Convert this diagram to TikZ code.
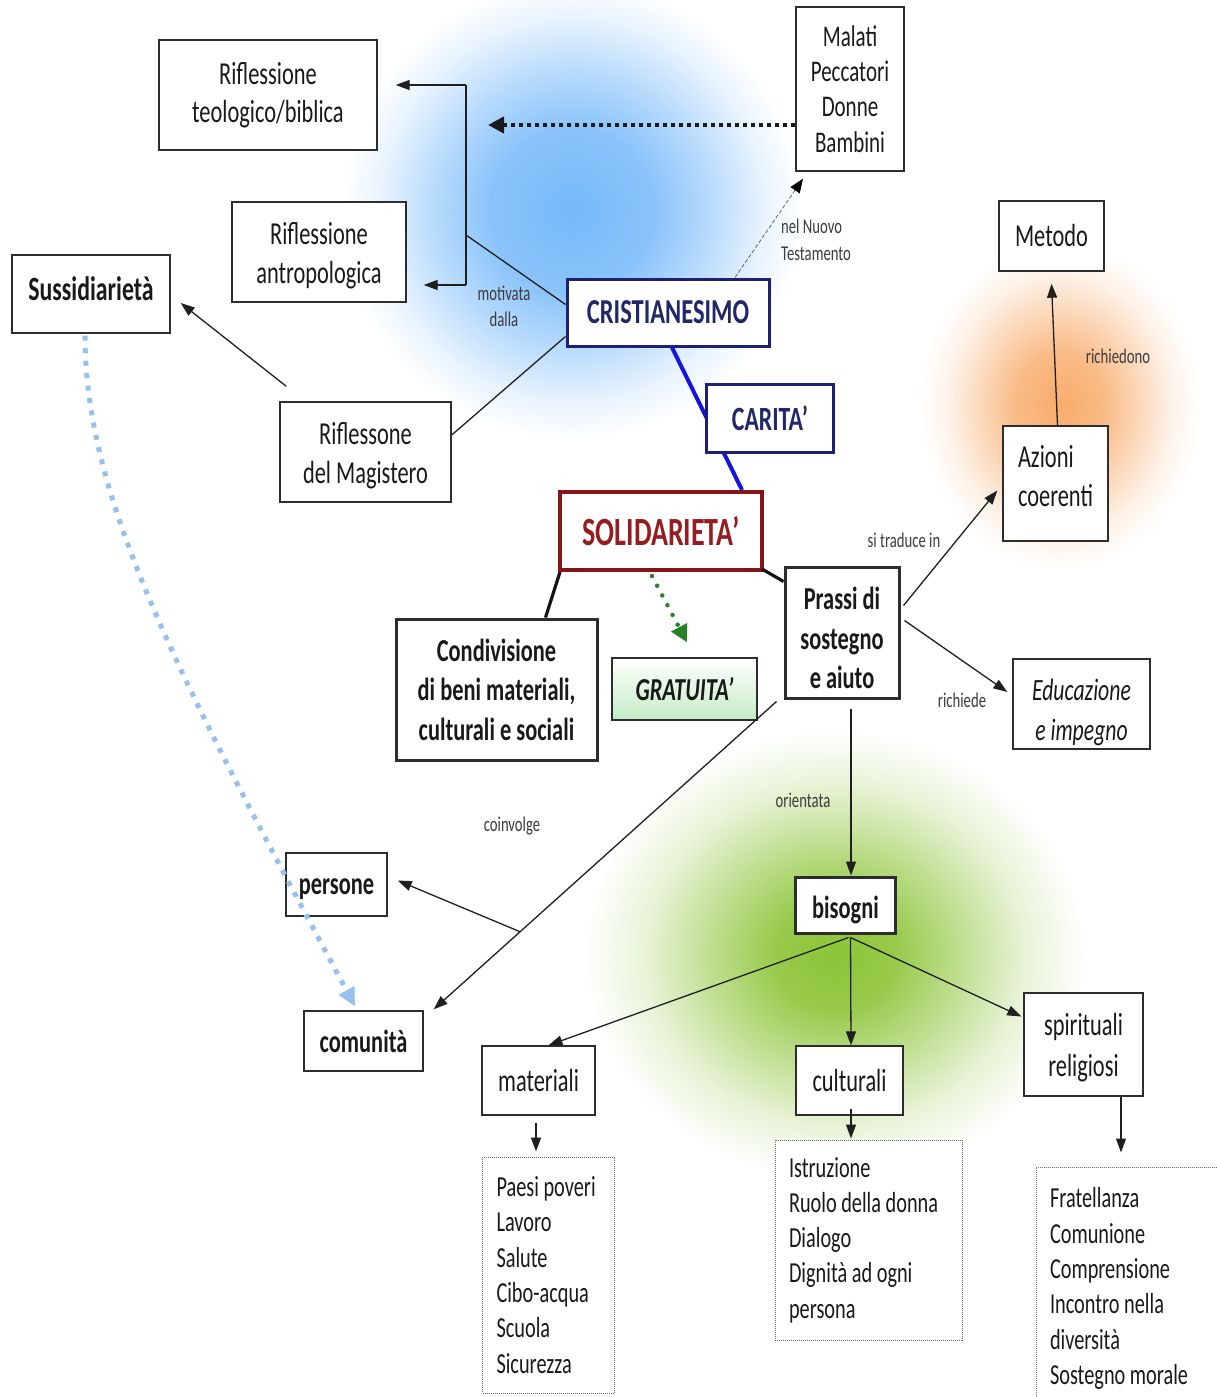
\documentclass[tikz,border=0pt]{standalone}
\usepackage{fontspec}
\setmainfont{Carlito}[FakeStretch=0.70]
\usetikzlibrary{arrows.meta,calc}
\newcommand\tdn[1]{\rule{0pt}{#1}}
\newcommand\tup[1]{\rule[-#1]{0pt}{#1}}
\definecolor{boxc}{RGB}{45,45,45}
\definecolor{navyc}{RGB}{30,32,115}
\definecolor{navytxt}{RGB}{32,40,105}
\definecolor{bluelnc}{RGB}{20,20,225}
\definecolor{redc}{RGB}{135,20,22}
\definecolor{redtxt}{RGB}{150,28,32}
\definecolor{greenarr}{RGB}{40,128,40}
\definecolor{grafill}{RGB}{196,236,196}
\definecolor{lblc}{RGB}{60,60,60}
\definecolor{dotblue}{RGB}{150,192,238}
\definecolor{gblue}{RGB}{118,185,250}
\definecolor{gorange}{RGB}{248,172,108}
\definecolor{ggreen}{RGB}{140,196,55}
\pgfdeclareradialshading{glowblue}{\pgfpointorigin}{color(0bp)=(gblue); color(9bp)=(gblue!85!white); color(15bp)=(gblue!52!white); color(21bp)=(gblue!16!white); color(25bp)=(white); color(50bp)=(white)}
\pgfdeclareradialshading{gloworange}{\pgfpointorigin}{color(0bp)=(gorange); color(8bp)=(gorange!82!white); color(14bp)=(gorange!48!white); color(20bp)=(gorange!15!white); color(25bp)=(white); color(50bp)=(white)}
\pgfdeclareradialshading{glowgreen}{\pgfpointorigin}{color(0bp)=(ggreen); color(6bp)=(ggreen!90!white); color(12bp)=(ggreen!58!white); color(19bp)=(ggreen!20!white); color(25bp)=(white); color(50bp)=(white)}
\begin{document}
\begin{tikzpicture}[x=1pt,y=-1pt,
  sz/.style 2 args={minimum width=#1pt, minimum height=#2pt},
  box/.style={draw=boxc, line width=1.4pt, fill=white, inner sep=0pt, align=center, text=black!90, font=\fontsize{32}{38.5}\selectfont},
  bfont/.style={font=\fontsize{32}{39.5}\selectfont\bfseries},
  bbox/.style={box, line width=3pt, bfont},
  navybox/.style={box, draw=navyc, line width=3pt, text=navytxt, font=\fontsize{35}{40}\selectfont\bfseries},
  solbox/.style={box, draw=redc, line width=4pt, text=redtxt, font=\fontsize{40}{44}\selectfont\bfseries},
  lst/.style={draw=boxc!70, line width=1pt, densely dotted, fill=white, align=flush left, inner xsep=14pt, inner ysep=0pt, text=black!90, font=\fontsize{29}{35.3}\selectfont},
  lbl/.style={font=\fontsize{21}{26.5}\selectfont, text=lblc, inner sep=0pt, align=center},
  ln/.style={draw=black!88, line width=1.3pt},
  arr/.style={ln, -{Triangle[length=14pt,width=10pt]}},
  thk/.style={draw=black!92, line width=3.2pt},
  blueln/.style={draw=bluelnc, line width=4pt},
  dotarr/.style={draw=black!90, line width=4.5pt, dash pattern=on 4.5pt off 3.5pt, -{Triangle[length=16pt,width=16pt]}},
  dasharr/.style={draw=black!60, line width=0.8pt, dash pattern=on 4pt off 2pt, -{Triangle[length=14pt,width=11pt,color=black]}},
  greendot/.style={draw=greenarr, line width=4.5pt, line cap=round, dash pattern=on 0pt off 11pt, -{Triangle[length=17pt,width=17pt]}},
  bluedot/.style={draw=dotblue, line width=5pt, dash pattern=on 5pt off 7.5pt, -{Triangle[length=18pt,width=17pt]}}
]
\useasboundingbox (0,0) rectangle (1217,1397);
\fill[white] (0,0) rectangle (1217,1397);
% glows
\shade[shading=glowblue] (572,210) ellipse [x radius=230, y radius=230];
\shade[shading=gloworange] (1060,405) ellipse [x radius=140, y radius=165];
\shade[shading=glowgreen] (835,955) ellipse [x radius=250, y radius=225];
% nodes
\node[box, sz={218}{110}] (rtb) at (268,95) {Riflessione\\teologico/biblica};
\node[box, sz={174}{100}] (rant) at (319,252) {\tdn{29pt}Riflessione\\antropologica};
\node[box, sz={158}{78}, font=\fontsize{34}{40}\selectfont\bfseries] (sus) at (91,294) {Sussidiarietà\tup{10pt}};
\node[box, sz={171}{100}] (mag) at (365.5,452) {\tdn{29pt}Riflessone\\del Magistero};
\node[box, sz={108}{164}, font=\fontsize{30}{35.3}\selectfont] (mal) at (850,89) {Malati\\Peccatori\\Donne\\Bambini};
\node[navybox, sz={202}{67}] (cri) at (668,312.5) {CRISTIANESIMO};
\node[box, sz={105}{70}] (met) at (1051.5,236) {Metodo};
\node[box, sz={105}{115}, align=left, text width=75pt, inner xsep=15pt] (azi) at (1055.5,483.5) {Azioni\\coerenti\tup{15pt}};
\node[solbox, sz={202}{78}] (sol) at (661,531) {SOLIDARIETA’};
\node[bbox, sz={114}{131}] (prs) at (842,632.5) {\tdn{34pt}Prassi di\\sostegno\\e aiuto};
\node[bbox, sz={201}{141}] (con) at (496.5,689.5) {Condivisione\\di beni materiali,\\culturali e sociali};
\node[box, sz={145}{62}, top color=white, bottom color=grafill, font=\fontsize{32}{38}\selectfont\bfseries\itshape] (gra) at (684.5,689) {GRATUITA’};
\node[box, sz={137}{90}, font=\fontsize{31}{40}\selectfont\itshape] (edu) at (1081.5,704) {\tdn{38pt}Educazione\\e impegno};
\node[box, sz={101}{63}, bfont] (per) at (336.5,884.5) {\tdn{25pt}persone};
\node[box, sz={119}{60}, bfont] (com) at (363.5,1041) {comunità};
\node[bbox, sz={100}{56}] (bis) at (845.5,905) {\tdn{32pt}bisogni};
\node[box, sz={113}{69}] (mat) at (538.5,1080.5) {materiali};
\node[box, sz={107}{69}] (cul) at (849.5,1080.5) {culturali};
\node[box, sz={119}{103}, font=\fontsize{32}{41}\selectfont] (spi) at (1083.5,1044.5) {\tdn{28pt}spirituali\\religiosi};
\node[lst, text width=104pt, minimum height=236pt] (lm) at (548.5,1275) {\mbox{Paesi poveri}\\Lavoro\\Salute\\Cibo-acqua\\Scuola\\Sicurezza};
\node[lst, text width=159pt, minimum height=200pt] (lc) at (868.5,1240) {Istruzione\\\mbox{Ruolo della donna}\\Dialogo\\\mbox{Dignità ad ogni}\\persona};
\node[lst, text width=172pt, minimum height=243pt] (ls) at (1136,1288.5) {Fratellanza\\Comunione\\Comprensione\\\mbox{Incontro nella}\\diversità\\\mbox{Sostegno morale}};
% labels
\node[lbl] (l1) at (504,306.5) {motivata\\dalla};
\node[lbl, align=left, anchor=west] (l2) at (781,240) {nel Nuovo\\Testamento};
\node[lbl] (l3) at (1118,356) {richiedono};
\node[lbl] (l4) at (904,540) {si traduce in};
\node[lbl] (l5) at (962,700) {richiede};
\node[lbl] (l6) at (803,800) {orientata};
\node[lbl] (l7) at (512,826) {coinvolge};
% blue line under CARITA'
\draw[blueln] ($(cri.south)+(4,0)$) -- ($(sol.north)+(81,0)$);
\node[navybox, sz={127}{68}, font=\fontsize{34}{40}\selectfont\bfseries] (car) at (770,418.5) {CARITA’};
% connectors
\coordinate (bt) at (466,85);
\coordinate (bb) at (466,285);
\coordinate (bm) at (466,235);
\draw[ln] (bt) -- (bb);
\draw[arr, shorten >=18pt] (bt) -- (bt -| rtb.east);
\draw[arr, shorten >=17pt] (bb) -- (bb -| rant.east);
\draw[ln] ($(cri.west)+(0,-8)$) -- (bm);
\draw[ln] ($(mag.east)+(0,-17)$) -- ($(cri.west)+(0,24)$);
\draw[arr] ($(mag.north west)+(7,-15)$) -- ($(sus.east)+(10,9)$);
\coordinate (dt) at (488,125);
\draw[dotarr] ($(mal.west)+(0,36)$) -- (dt);
\draw[dasharr] ($(cri.north)+(67,0)$) -- ($(mal.south)+(-47,7)$);
\draw[bluedot] ($(sus.south)+(-6,2)$) .. controls (85,500) and (180,680) .. ($(com.north)+(-8.5,-4)$);
\draw[greendot] ($(sol.south)+(-9,4)$) -- ($(gra.north)+(2.5,-15)$);
\draw[thk] ($(sol.south west)+(2,0)$) -- ($(con.north)+(49,0)$);
\draw[thk] ($(sol.south east)+(-2,-3)$) -- ($(prs.north west)+(0,16)$);
\draw[arr] ($(prs.east)+(3,-27)$) -- ($(azi.west)+(-5,7)$);
\draw[arr] ($(prs.east)+(4,-12)$) -- ($(edu.west)+(-5,-12)$);
\draw[arr] ($(prs.south)+(9,9)$) -- ($(bis.north)+(5.5,0)$);
\coordinate (ps) at ($(prs.south west)+(-7,2)$);
\coordinate (pe) at ($(com.north east)+(10,-1)$);
\draw[arr] (ps) -- (pe);
\coordinate (pj) at ($(ps)!0.748!(pe)$);
\draw[arr] (pj) -- ($(per.east)+(10,-4)$);
\draw[arr] ($(azi.north)+(2,0)$) -- ($(met.south)+(0,12)$);
\draw[arr] ($(bis.south)+(3,3)$) -- ($(mat.north)+(10,0)$);
\draw[arr] ($(bis.south)+(5,3)$) -- ($(cul.north)+(1.5,0)$);
\draw[arr] ($(bis.south)+(5,3)$) -- ($(spi.west)+(-2,-28)$);
\draw[arr] ($(mat.south)+(-2.5,7)$) -- ($(lm.north -| mat.south)+(-2.5,-5)$);
\draw[arr] ($(cul.south)+(1.5,-7)$) -- ($(lc.north -| cul.south)+(1.5,-1)$);
\draw[arr] ($(spi.south)+(37.5,0)$) -- ($(ls.north -| spi.south)+(37.5,-14)$);
\end{tikzpicture}
\end{document}
